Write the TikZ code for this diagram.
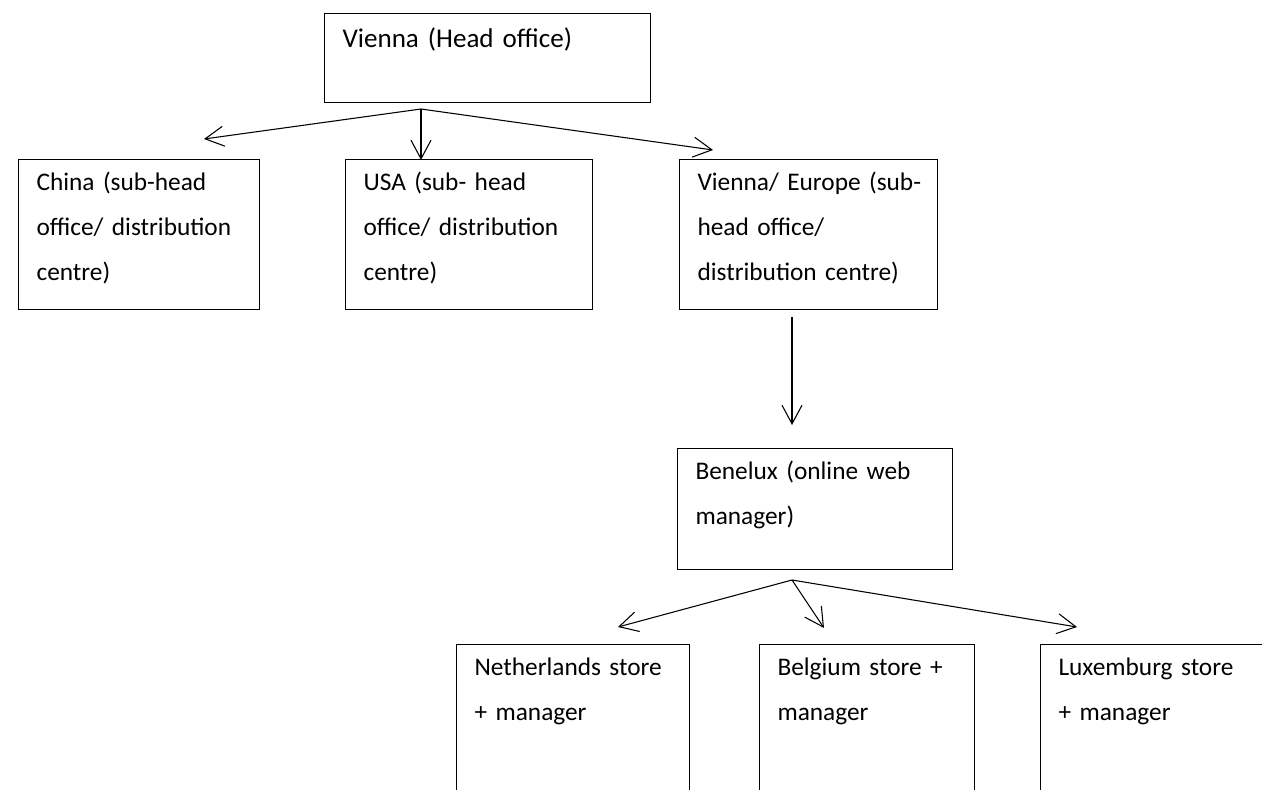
\documentclass[tikz,border=0pt]{standalone}
\usepackage{fontspec}
\setmainfont{Carlito}
\usepackage{tikz}
\usetikzlibrary{arrows.meta, positioning}
\hyphenpenalty=10000

\tikzset{
    box/.style={draw, line width=0.8pt, anchor=north west, align=left,
        inner xsep=13.5pt, inner ysep=0pt, text height=23.25pt,
        font=\fontsize{19pt}{33.75pt}\selectfont},
    link/.style={-{Straight Barb[length=14pt, width=15pt]}, line width=0.8pt}
}

\begin{document}
\begin{tikzpicture}[x=0.75pt, y=-0.75pt]
        \clip (0, 0) rectangle (1262, 789);
        % head office
        \node[box, text width=217.5pt, text height=25.5pt, text depth=41.25pt,
            font=\fontsize{20.3pt}{33.75pt}\selectfont] (vienna) at (324, 13) {Vienna (Head office)};
        % sub-head offices
        \node[box, text width=153.75pt, text depth=89.25pt] (china) at (18, 159) {China (sub-head\\ office/ distribution\\ centre)};
        \node[box, text width=158.25pt, text depth=89.25pt] (usa) at (345, 159) {USA (sub- head\\ office/ distribution\\ centre)};
        \node[box, text width=166.5pt, text depth=89.25pt] (europe) at (679, 159) {\mbox{Vienna/ Europe (sub-}\\ head office/\\ distribution centre)};
        % benelux
        \node[box, text width=179.25pt, text depth=67.5pt] (benelux) at (677, 448) {Benelux (online web\\ manager)};
        % stores
        \node[box, text width=147.75pt, text depth=93.75pt] (nl) at (456, 644) {Netherlands store\\ + manager};
        \node[box, text width=134.25pt, text depth=93.75pt] (be) at (759, 644) {Belgium store +\\ manager};
        \node[box, text width=160.5pt, text depth=93.75pt] (lu) at (1040, 644) {Luxemburg store\\ + manager};
        % connector ends
        \coordinate (vienna-hub) at (421, 109);
        \coordinate (china-tip) at (204, 139);
        \coordinate (usa-tip) at (421, 160);
        \coordinate (europe-tip) at (713, 150);
        \coordinate (europe-out) at (792, 317);
        \coordinate (benelux-tip) at (792, 425);
        \coordinate (benelux-hub) at (792, 580);
        \coordinate (nl-tip) at (618, 627);
        \coordinate (be-tip) at (824, 628);
        \coordinate (lu-tip) at (1077, 627);
        \draw[link] (vienna-hub) -- (china-tip);
        \draw[link] (vienna-hub) -- (usa-tip);
        \draw[link] (vienna-hub) -- (europe-tip);
        \draw[link] (europe-out) -- (benelux-tip);
        \draw[link] (benelux-hub) -- (nl-tip);
        \draw[link] (benelux-hub) -- (be-tip);
        \draw[link] (benelux-hub) -- (lu-tip);
    \end{tikzpicture}
\end{document}
